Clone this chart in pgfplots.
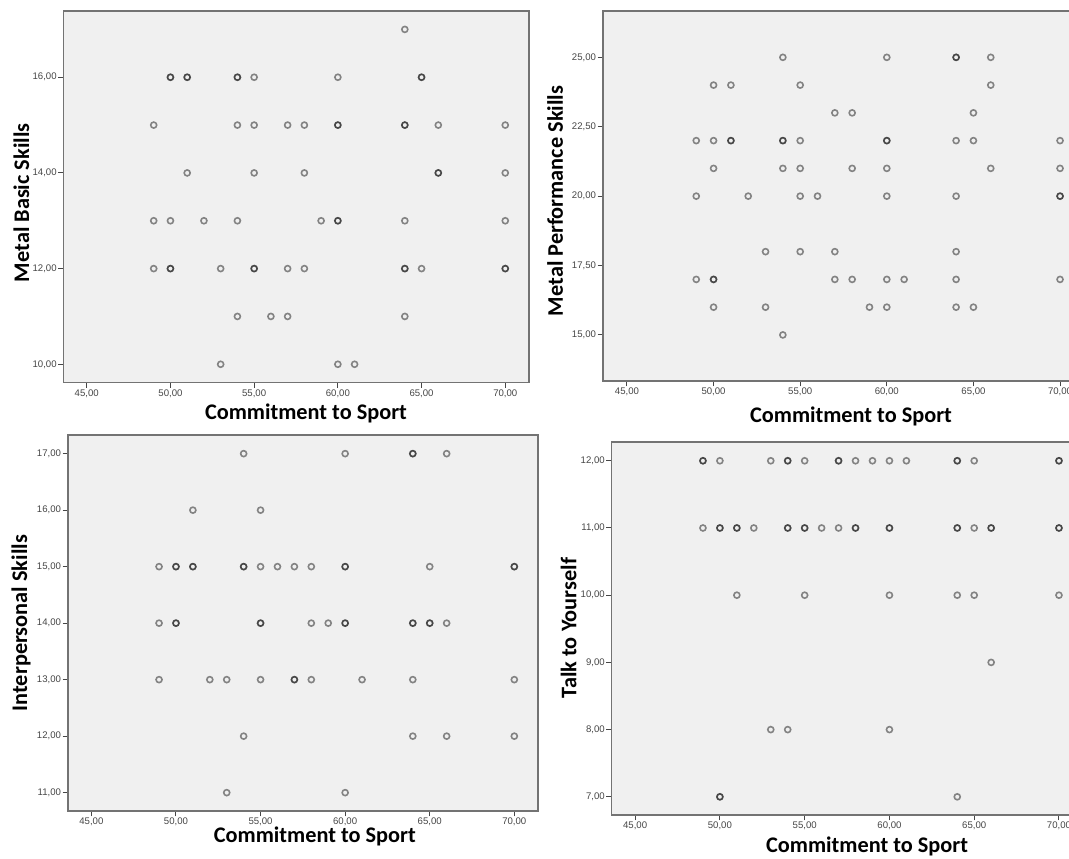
\documentclass[border=0pt]{standalone}
\usepackage{fontspec}
\setmainfont{Carlito}
\newfontfamily\tickfont{Liberation Sans}
\usepackage{pgfplots}
\pgfplotsset{compat=1.18}
\definecolor{bgc}{RGB}{240,240,240}
\definecolor{framec}{RGB}{115,115,115}
\definecolor{tickc}{RGB}{70,70,70}
\pgfplotsset{spss/.style={
  scale only axis,
  anchor=south west,
  axis background/.style={fill=bgc},
  axis line style={draw=framec, line width=1.6pt},
  tick align=outside, xtick pos=bottom, ytick pos=left,
  major tick length=5pt,
  every tick/.style={draw=tickc, line width=1pt},
  xmin=43.6, xmax=71.4,
  xtick={45,50,...,70},
  tick label style={font=\tickfont\fontsize{9.6}{10}\selectfont, text=tickc},
  xticklabel style={inner sep=1.5pt},
  yticklabel style={inner sep=1.5pt},
  /pgf/number format/.cd, fixed, fixed zerofill, precision=2, use comma, assume math mode=true, /pgfplots/.cd,
  label style={font=\bfseries\fontsize{22.3}{24}\selectfont, text=black},
  xlabel={Commitment to Sport},
},
spssmark/.style={only marks, mark=o, mark size=3pt,
    mark options={draw=black, draw opacity=0.45, line width=1.6pt, fill=none}}
}
\begin{document}
\begin{tikzpicture}
\useasboundingbox (0pt,0pt) rectangle (1069pt,859pt);
\fill[white] (0pt,0pt) rectangle (1069pt,859pt);
\clip (0pt,0pt) rectangle (1069pt,859pt);
% Panel 1
\begin{axis}[spss, at={(63.3pt,476.3pt)}, width=465.4pt, height=371.7pt,
  ymin=9.615, ymax=17.385, ytick={10,12,14,16},
  ylabel={Metal Basic Skills},
  x label style={at={(axis description cs:0.5215,-0.0829)}, anchor=center},
  y label style={at={(axis description cs:-0.0898,0.4839)}, anchor=center}]
\addplot[spssmark] coordinates {
(64,17)
(50,16)(50,16)(51,16)(51,16)(54,16)(54,16)(55,16)(60,16)(65,16)(65,16)
(49,15)(54,15)(55,15)(57,15)(58,15)(60,15)(60,15)(64,15)(64,15)(66,15)(70,15)
(51,14)(55,14)(58,14)(66,14)(66,14)(70,14)
(49,13)(50,13)(52,13)(54,13)(59,13)(60,13)(60,13)(64,13)(70,13)
(49,12)(50,12)(50,12)(53,12)(55,12)(55,12)(57,12)(58,12)(64,12)(64,12)(65,12)(70,12)(70,12)
(54,11)(56,11)(57,11)(64,11)
(53,10)(60,10)(61,10)
};
\end{axis}
% Panel 2
\begin{axis}[spss, at={(602.7pt,477.7pt)}, width=481.6pt, height=370.3pt,
  ymin=13.33, ymax=26.67, ytick={15,17.5,20,22.5,25},
  ylabel={Metal Performance Skills},
  x label style={at={(axis description cs:0.5156,-0.0937)}, anchor=center},
  y label style={at={(axis description cs:-0.099,0.487)}, anchor=center}]
\addplot[spssmark] coordinates {
(54,25)(60,25)(64,25)(64,25)(66,25)
(50,24)(51,24)(55,24)(66,24)
(57,23)(58,23)(65,23)
(49,22)(50,22)(51,22)(51,22)(54,22)(54,22)(55,22)(60,22)(60,22)(64,22)(65,22)(70,22)
(50,21)(54,21)(55,21)(58,21)(60,21)(66,21)(70,21)
(49,20)(52,20)(55,20)(56,20)(60,20)(64,20)(70,20)(70,20)
(53,18)(55,18)(57,18)(64,18)
(49,17)(50,17)(50,17)(57,17)(58,17)(60,17)(61,17)(64,17)(70,17)
(50,16)(53,16)(59,16)(60,16)(64,16)(65,16)
(54,15)
};
\end{axis}
% Panel 3
\begin{axis}[spss, at={(67.7pt,47.7pt)}, width=470.3pt, height=376.3pt,
  ymin=10.67, ymax=17.33, ytick={11,12,...,17},
  ylabel={Interpersonal Skills},
  x label style={at={(axis description cs:0.5255,-0.0675)}, anchor=center},
  y label style={at={(axis description cs:-0.0993,0.5)}, anchor=center}]
\addplot[spssmark] coordinates {
(54,17)(60,17)(64,17)(64,17)(66,17)
(51,16)(55,16)
(49,15)(50,15)(50,15)(51,15)(51,15)(54,15)(54,15)(55,15)(56,15)(57,15)(58,15)(60,15)(60,15)(65,15)(70,15)(70,15)
(49,14)(50,14)(50,14)(55,14)(55,14)(58,14)(59,14)(60,14)(60,14)(64,14)(64,14)(65,14)(65,14)(66,14)
(49,13)(52,13)(53,13)(55,13)(57,13)(57,13)(58,13)(61,13)(64,13)(70,13)
(54,12)(64,12)(66,12)(70,12)
(53,11)(60,11)
};
\end{axis}
% Panel 4
\begin{axis}[spss, at={(611.4pt,43.7pt)}, width=471.3pt, height=373pt,
  ymin=6.725, ymax=12.275, ytick={7,8,...,12},
  ylabel={Talk to Yourself},
  x label style={at={(axis description cs:0.5425,-0.0823)}, anchor=center},
  y label style={at={(axis description cs:-0.091,0.502)}, anchor=center}]
\addplot[spssmark] coordinates {
(49,12)(49,12)(50,12)(53,12)(54,12)(54,12)(55,12)(57,12)(57,12)(58,12)(59,12)(60,12)(61,12)(64,12)(64,12)(65,12)(70,12)(70,12)
(49,11)(50,11)(50,11)(51,11)(51,11)(52,11)(54,11)(54,11)(55,11)(55,11)(56,11)(57,11)(58,11)(58,11)(60,11)(60,11)(64,11)(64,11)(65,11)(66,11)(66,11)(70,11)(70,11)
(51,10)(55,10)(60,10)(64,10)(65,10)(70,10)
(66,9)
(53,8)(54,8)(60,8)
(50,7)(50,7)(64,7)
};
\end{axis}
\end{tikzpicture}
\end{document}
